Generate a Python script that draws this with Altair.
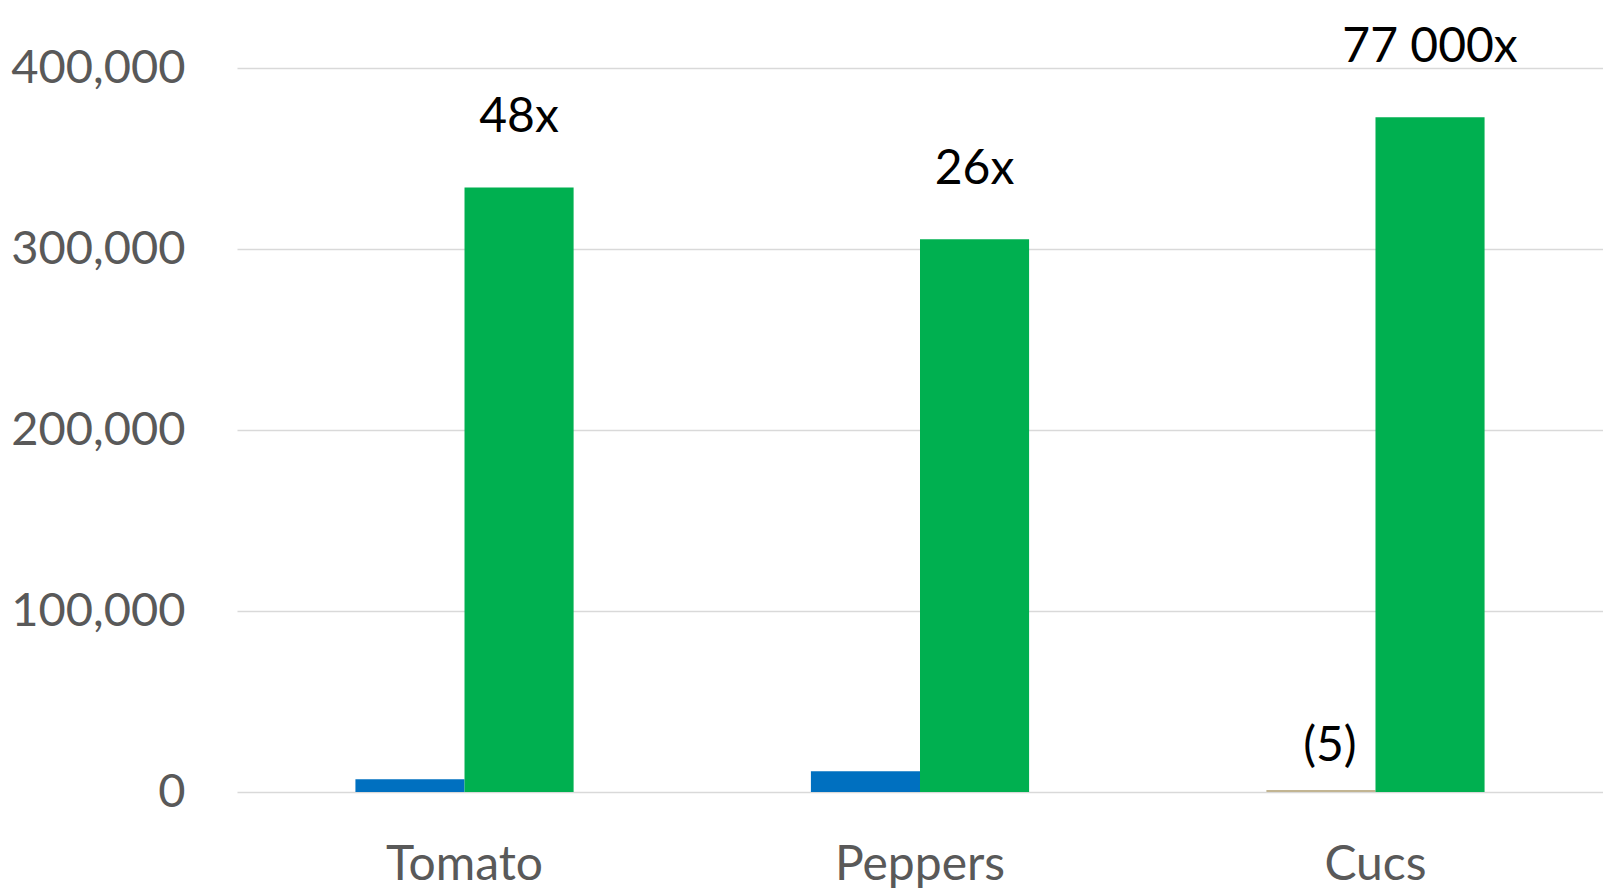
import altair as alt
import pandas as pd

categories = ["Tomato", "Peppers", "Cucs"]
series_names = ["Current", "Potential"]
current_values = [7000, 11400, 1100]
potential_values = [334000, 305400, 372800]
current_labels = ["", "", "(5)"]
potential_labels = ["48x", "26x", "77 000x"]
y_ticks = [0, 100000, 200000, 300000, 400000]

rows = []
for i, c in enumerate(categories):
    rows.append({"category": c, "series": "Current", "value": current_values[i], "label": current_labels[i]})
    rows.append({"category": c, "series": "Potential", "value": potential_values[i], "label": potential_labels[i]})
df = pd.DataFrame(rows)

FONT = "Lato"

x_enc = alt.X(
    "category:N",
    sort=categories,
    scale=alt.Scale(paddingInner=0.521, paddingOuter=0.26),
    axis=alt.Axis(
        title=None, domain=False, ticks=False, labelAngle=0,
        labelFont=FONT, labelFontSize=48, labelColor="#595959",
        labelPadding=49,
    ),
)
xoff = alt.XOffset("series:N", sort=series_names,
                   scale=alt.Scale(domain=series_names, paddingInner=0, paddingOuter=0))
y_enc = alt.Y(
    "value:Q",
    scale=alt.Scale(domain=[0, 400000], nice=False),
    axis=alt.Axis(
        title=None, domain=False, ticks=False, values=y_ticks, format=",d",
        labelFont=FONT, labelFontSize=47, labelColor="#595959", labelPadding=52,
        grid=True, gridColor="#D9D9D9", gridWidth=1.5,
    ),
)

bars = alt.Chart(df).mark_bar().encode(
    x=x_enc,
    xOffset=xoff,
    y=y_enc,
    color=alt.condition(
        "datum.category === 'Cucs' && datum.series === 'Current'",
        alt.value("#C2B593"),
        alt.Color("series:N", scale=alt.Scale(domain=series_names, range=["#0070C0", "#00B050"]), legend=None),
    ),
)

green_text = alt.Chart(df).transform_filter("datum.series === 'Potential'").mark_text(
    font=FONT, fontSize=48, color="#000000", baseline="alphabetic", align="center", dy=-55
).encode(x=alt.X("category:N", sort=categories), xOffset=xoff, y="value:Q", text="label:N")

small_text = alt.Chart(df).transform_filter("datum.series === 'Current' && datum.label !== ''").mark_text(
    font=FONT, fontSize=48, color="#000000", baseline="alphabetic", align="center", dy=-29, dx=9
).encode(x=alt.X("category:N", sort=categories), xOffset=xoff, y="value:Q", text="label:N")

chart = alt.layer(bars, green_text, small_text).properties(
    width=1366, height=724,
    autosize=alt.AutoSizeParams(type="none"),
    padding={"left": 237, "top": 68, "right": 0, "bottom": 96},
    background="#FFFFFF",
).configure_view(stroke=None)

chart.save("out.html", embed_options={"renderer": "svg", "actions": False})
